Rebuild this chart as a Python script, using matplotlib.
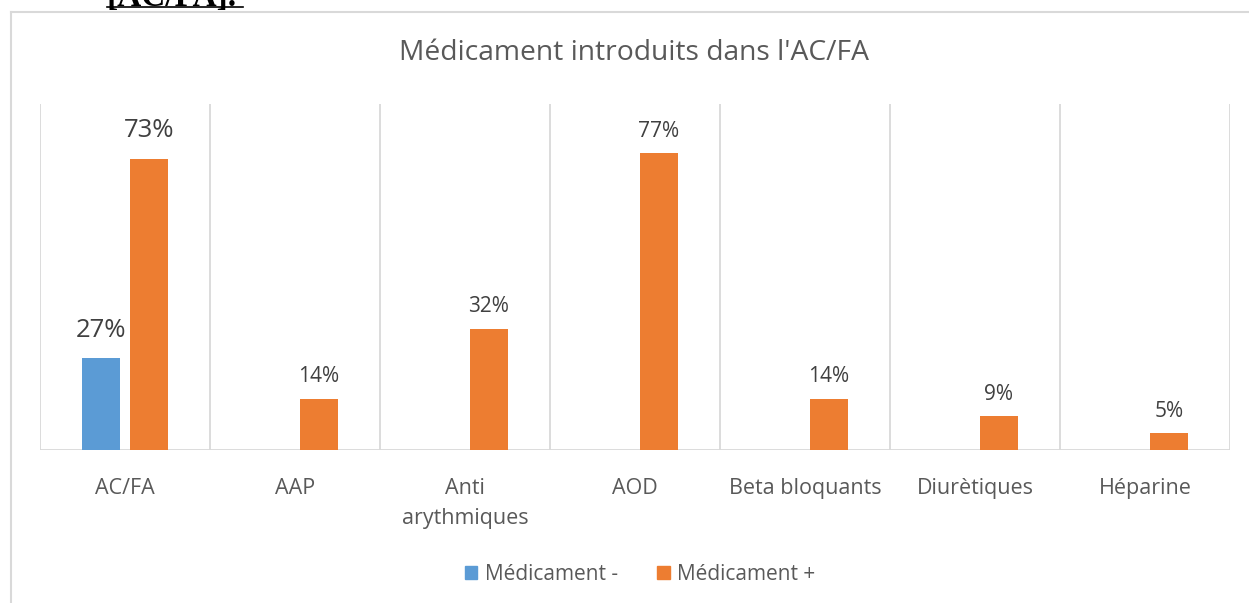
import numpy as np
import matplotlib
matplotlib.use("Agg")
import matplotlib.pyplot as plt
from matplotlib.patches import Patch
from matplotlib.lines import Line2D

# data
categories = ['AC/FA', 'AAP', 'Anti\narythmiques', 'AOD', 'Beta bloquants', 'Diurètiques', 'Héparine']
med_moins = [24.0, 0, 0, 0, 0, 0, 0]
med_plus = [75.7, 13.3, 31.6, 77.2, 13.3, 8.8, 4.3]
labels_moins = ['27%', '', '', '', '', '', '']
labels_plus = ['73%', '14%', '32%', '77%', '14%', '9%', '5%']

blue = '#5B9BD5'
orange = '#ED7D31'
grid_col = '#D9D9D9'
txt_col = '#595959'

plt.rcParams['font.family'] = ['Open Sans', 'DejaVu Sans']

W, H = 1249, 603
fig = plt.figure(figsize=(W / 100, H / 100), dpi=100)

def fx(px):
    return px / W

def fy(py):
    return 1 - py / H

ax = fig.add_axes([fx(40), fy(450), fx(1230) - fx(40), fy(104) - fy(450)])

x = np.arange(len(categories))
bw = 0.225
off = 0.141
b1 = ax.bar(x - off, med_moins, bw, color=blue, zorder=3)
b2 = ax.bar(x + off, med_plus, bw, color=orange, zorder=3)

ax.set_xlim(-0.5, len(categories) - 0.5)
ax.set_ylim(0, 90)

# vertical separators between categories
for k in range(len(categories) + 1):
    ax.axvline(k - 0.5, color=grid_col, lw=1.3, zorder=1)
ax.axhline(0, color=grid_col, lw=1.3, zorder=2)

for s in ax.spines.values():
    s.set_visible(False)
ax.set_yticks([])
ax.set_xticks(x)
ax.set_xticklabels(categories, fontsize=15.5, color=txt_col, linespacing=1.6)
ax.tick_params(axis='x', length=0, pad=20)

# data labels
for i in range(len(categories)):
    if labels_moins[i]:
        ax.annotate(labels_moins[i], (x[i] - off, med_moins[i]), xytext=(0, 15),
                    textcoords='offset points', ha='center', va='baseline',
                    fontsize=18.5, color='#404040')
    if labels_plus[i]:
        big = i == 0
        ax.annotate(labels_plus[i], (x[i] + off, med_plus[i]),
                    xytext=(0, 16 if big else 12),
                    textcoords='offset points', ha='center', va='baseline',
                    fontsize=18.5 if big else 15, color='#404040')

fig.text(0.508, fy(53), "Médicament introduits dans l'AC/FA", ha='center', va='center',
         fontsize=20.3, color=txt_col)

handles = [Patch(color=blue, label='Médicament -'), Patch(color=orange, label='Médicament +')]
fig.legend(handles=handles, loc='center', bbox_to_anchor=(fx(640), fy(574)), ncol=2,
           frameon=False, fontsize=15, labelcolor=txt_col, handlelength=0.6,
           handleheight=0.6, handletextpad=0.35, columnspacing=1.9)

# chart border (partly cut)
fig.add_artist(Line2D([fx(10.5), fx(10.5)], [0, fy(12)], color=grid_col, lw=1.5))
fig.add_artist(Line2D([fx(10.5), 1], [fy(12), fy(12)], color=grid_col, lw=1.5))

# cut heading above the chart
fig.text(fx(107), fy(6), '[AC/FA].', ha='left', va='baseline', fontsize=24,
         fontweight='bold', family='Liberation Serif', color='black')
fig.add_artist(Line2D([fx(107), fx(243)], [fy(6.5), fy(6.5)], color='black', lw=1.2))

fig.savefig('out.png', dpi=100)
